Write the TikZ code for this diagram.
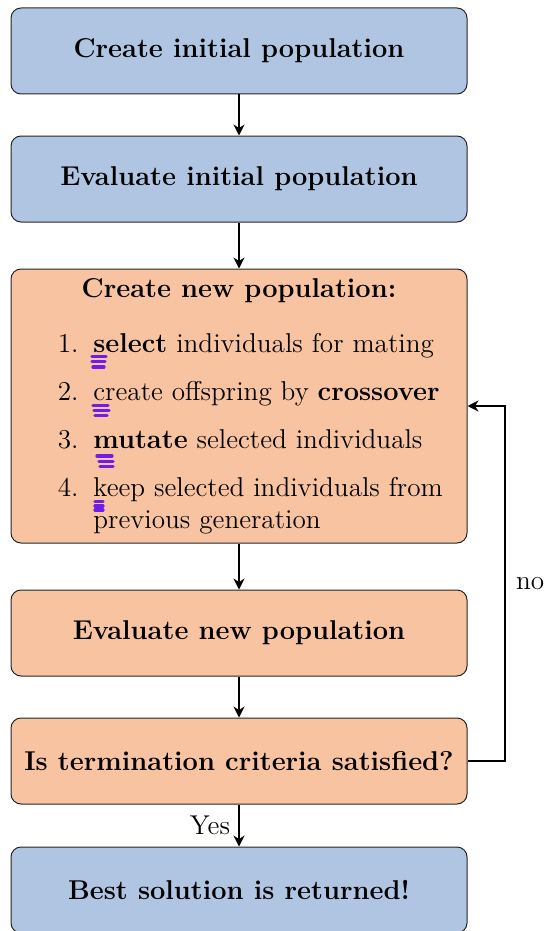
\documentclass[tikz,border=0pt]{standalone}
\usepackage{fontspec}
\usetikzlibrary{arrows.meta}
\definecolor{boxblue}{RGB}{176,197,226}
\definecolor{boxorange}{RGB}{248,195,160}
\definecolor{markpurple}{RGB}{110,30,230}
\newcommand{\myfont}{\fontsize{13.6}{16.3}\selectfont}
\tikzset{
  stepbox/.style={draw=black!85, line width=0.5pt, rounded corners=5pt,
    minimum width=228pt, minimum height=43pt, inner sep=0pt,
    font=\myfont\bfseries, align=center},
  bluebox/.style={stepbox, fill=boxblue},
  orangebox/.style={stepbox, fill=boxorange},
  arr/.style={-{Stealth[length=5.5pt,width=5.5pt]}, line width=1pt},
  plain/.style={font=\myfont, inner sep=0pt},
  scribble/.style={draw=markpurple, line width=1.6pt, line cap=round}
}
\begin{document}
\begin{tikzpicture}[x=0.5pt,y=-0.5pt]
\useasboundingbox (0,0) rectangle (546,931);
\clip (0,0) rectangle (546,931);

\node[bluebox] (b1) at (239,51) {Create initial population};
\node[bluebox] (b2) at (239,179) {Evaluate initial population};
\node[orangebox, minimum height=137pt] (b3) at (239,406) {};
\node[orangebox] (b4) at (239,633) {Evaluate new population};
\node[orangebox] (b5) at (239,761) {Is termination criteria satisfied?};
\node[bluebox] (b6) at (239,890) {Best solution is returned!};

% contents of the third box
\node[plain, font=\myfont\bfseries, anchor=base] (t3) at (239,297.3) {Create new population:};
\node[plain, anchor=base east] (n1) at (79,352.7) {1.};
\node[plain, anchor=base west] (i1) at (93,352.7) {\textbf{select} individuals for mating};
\node[plain, anchor=base east] (n2) at (79,400.7) {2.};
\node[plain, anchor=base west] (i2) at (93,400.7) {create offspring by \textbf{crossover}};
\node[plain, anchor=base east] (n3) at (79,448.3) {3.};
\node[plain, anchor=base west] (i3) at (93,448.3) {\textbf{mutate} selected individuals};
\node[plain, anchor=base east] (n4) at (79,496.7) {4.};
\node[plain, anchor=base west] (i4) at (93,496.7) {keep selected individuals from};
\node[plain, anchor=base west] (i4b) at (93,528.3) {previous generation};

% purple marks
\draw[scribble] (92,356.7) -- (106,356.7) (92,361.7) -- (105,361.7) (93,367) -- (104,367);
\draw[scribble] (93,405.3) -- (108,405.3) (94,410.7) -- (109,410.7) (95,415.7) -- (107,415.7);
\draw[scribble] (97,456) -- (112,456) (99,461.3) -- (113,461.3) (100,466.7) -- (113,466.7);
\draw[scribble] (95,501.7) -- (103,501.7) (95,506) -- (103,506) (95,510) -- (103,510);

% connectors
\draw[arr] (b1) -- (b2);
\draw[arr] (b2) -- (b3);
\draw[arr] (b3) -- (b4);
\draw[arr] (b4) -- (b5);
\draw[arr] (b5) -- node[plain, left, inner sep=4pt] {Yes} (b6);
\coordinate (c1) at (505,761);
\coordinate (c2) at (505,406);
\draw[arr] (b5.east) -- (c1) -- node[plain, right, inner sep=5pt] {no} (c2) -- (b3.east);
\end{tikzpicture}
\end{document}
